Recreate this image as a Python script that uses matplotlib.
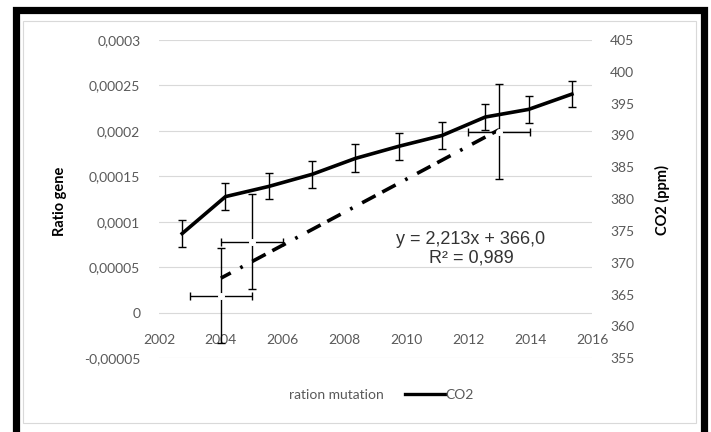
import numpy as np
import matplotlib.pyplot as plt
from matplotlib.lines import Line2D
from matplotlib.patches import Rectangle

# CO2 (ppm) - right axis
co2_years = [2002.75, 2004.15, 2005.55, 2006.95, 2008.35, 2009.75, 2011.15, 2012.55, 2013.95, 2015.35]
co2_ppm = [374.6, 380.4, 382.0, 383.9, 386.4, 388.3, 390.0, 392.9, 394.1, 396.5]
co2_err = [2.1, 2.1, 2.05, 2.1, 2.2, 2.1, 2.05, 2.05, 2.1, 2.05]

# ration mutation - left axis
mut_years = [2004, 2005, 2013]
mut_ratio = [0.0000187, 0.0000781, 0.000199]
mut_yerr = [0.0000522, 0.0000522, 0.0000522]
mut_xerr = [1.0, 1.0, 1.0]

x_ticks = [2002, 2004, 2006, 2008, 2010, 2012, 2014, 2016]
left_ticks = [-0.00005, 0, 0.00005, 0.0001, 0.00015, 0.0002, 0.00025, 0.0003]
left_labels = ["-0,00005", "0", "0,00005", "0,0001", "0,00015", "0,0002", "0,00025", "0,0003"]
right_ticks = [355, 360, 365, 370, 375, 380, 385, 390, 395, 400, 405]

W, H = 711, 432
tick_col = "#595959"

fig = plt.figure(figsize=(W / 100, H / 100), dpi=100)

# outer black frame and grey chart border
fig.add_artist(Rectangle((16 / W, 1 - 450 / H), (704 - 16) / W, (450 - 10) / H,
                         transform=fig.transFigure, fill=False, ec="black", lw=5.2))
fig.add_artist(Rectangle((23 / W, 1 - 422.5 / H), (695.5 - 23) / W, (422.5 - 21) / H,
                         transform=fig.transFigure, fill=False, ec="#d9d9d9", lw=0.8))

ax = fig.add_axes([159 / W, 1 - 358.3 / H, (592 - 159) / W, 318.3 / H])
ax2 = ax.twinx()

ax.set_xlim(2002, 2016)
ax.set_ylim(-0.00005, 0.0003)
ax2.set_ylim(355, 405)

for a in (ax, ax2):
    for s in a.spines.values():
        s.set_visible(False)
ax.spines["bottom"].set_position(("data", 0))

ax.set_yticks(left_ticks)
ax.set_yticklabels(left_labels)
ax.set_xticks(x_ticks)
ax.set_xticklabels([str(x) for x in x_ticks])
ax2.set_yticks(right_ticks)
ax2.set_yticklabels([str(v) for v in right_ticks])

ax.yaxis.grid(True, color="#d9d9d9", lw=0.8)
ax.set_axisbelow(True)

ax.tick_params(axis="y", length=0, pad=13.5, labelsize=10, labelcolor=tick_col)
ax.tick_params(axis="x", length=0, pad=15, labelsize=10, labelcolor=tick_col)
ax2.tick_params(axis="y", length=0, pad=13, labelsize=10, labelcolor=tick_col)
for lab in ax.get_xticklabels() + ax.get_yticklabels() + ax2.get_yticklabels():
    lab.set_fontfamily("Lato")

# ratio mutation: error bars only, with trendline
ax.errorbar(mut_years, mut_ratio, yerr=mut_yerr, xerr=mut_xerr, fmt="none",
            ecolor="black", elinewidth=1.0, capsize=3, capthick=1.0, zorder=3)
coef = np.polyfit(mut_years, mut_ratio, 1)
tx = np.array([mut_years[0], mut_years[-1]])
ax.plot(tx, np.polyval(coef, tx), color="black", lw=2.6, solid_capstyle="butt",
        dash_capstyle="butt",
        linestyle=(7.4, (4.2, 2.1, 4.2, 3.0, 0.75, 3.0)), zorder=4)
ax.plot(mut_years, mut_ratio, "o", ms=4, mfc="white", mec="white", zorder=5)

# CO2 line with error bars
ax2.errorbar(co2_years, co2_ppm, yerr=co2_err, color="black", lw=2.6,
             ecolor="black", elinewidth=1.0, capsize=3, capthick=1.0, zorder=3)

fig.text(60 / W, 1 - 201 / H, "Ratio gene", rotation=90, ha="center", va="center",
         fontsize=10.5, fontweight="bold", family="Lato", color="black")
fig.text(662 / W, 1 - 200 / H, "CO2 (ppm)", rotation=90, ha="center", va="center",
         fontsize=10.5, fontweight="bold", family="Lato", color="black")

fig.text(471 / W, 1 - 249 / H, "y = 2,213x + 366,0\nR² = 0,989", ha="center", va="center",
         fontsize=13, family="Liberation Sans", color="#333333", linespacing=1.12)

handles = [Line2D([], [], linestyle="none"), Line2D([], [], color="black", lw=2.4)]
leg = fig.legend(handles, ["ration mutation", "CO2"], loc="center",
                 bbox_to_anchor=(361 / W, 1 - 395 / H), ncol=2, frameon=False,
                 handlelength=2.9, handletextpad=0.0, columnspacing=1.5,
                 prop={"family": "Lato", "size": 10})
for t in leg.get_texts():
    t.set_color(tick_col)

fig.savefig("out.png", dpi=100)
